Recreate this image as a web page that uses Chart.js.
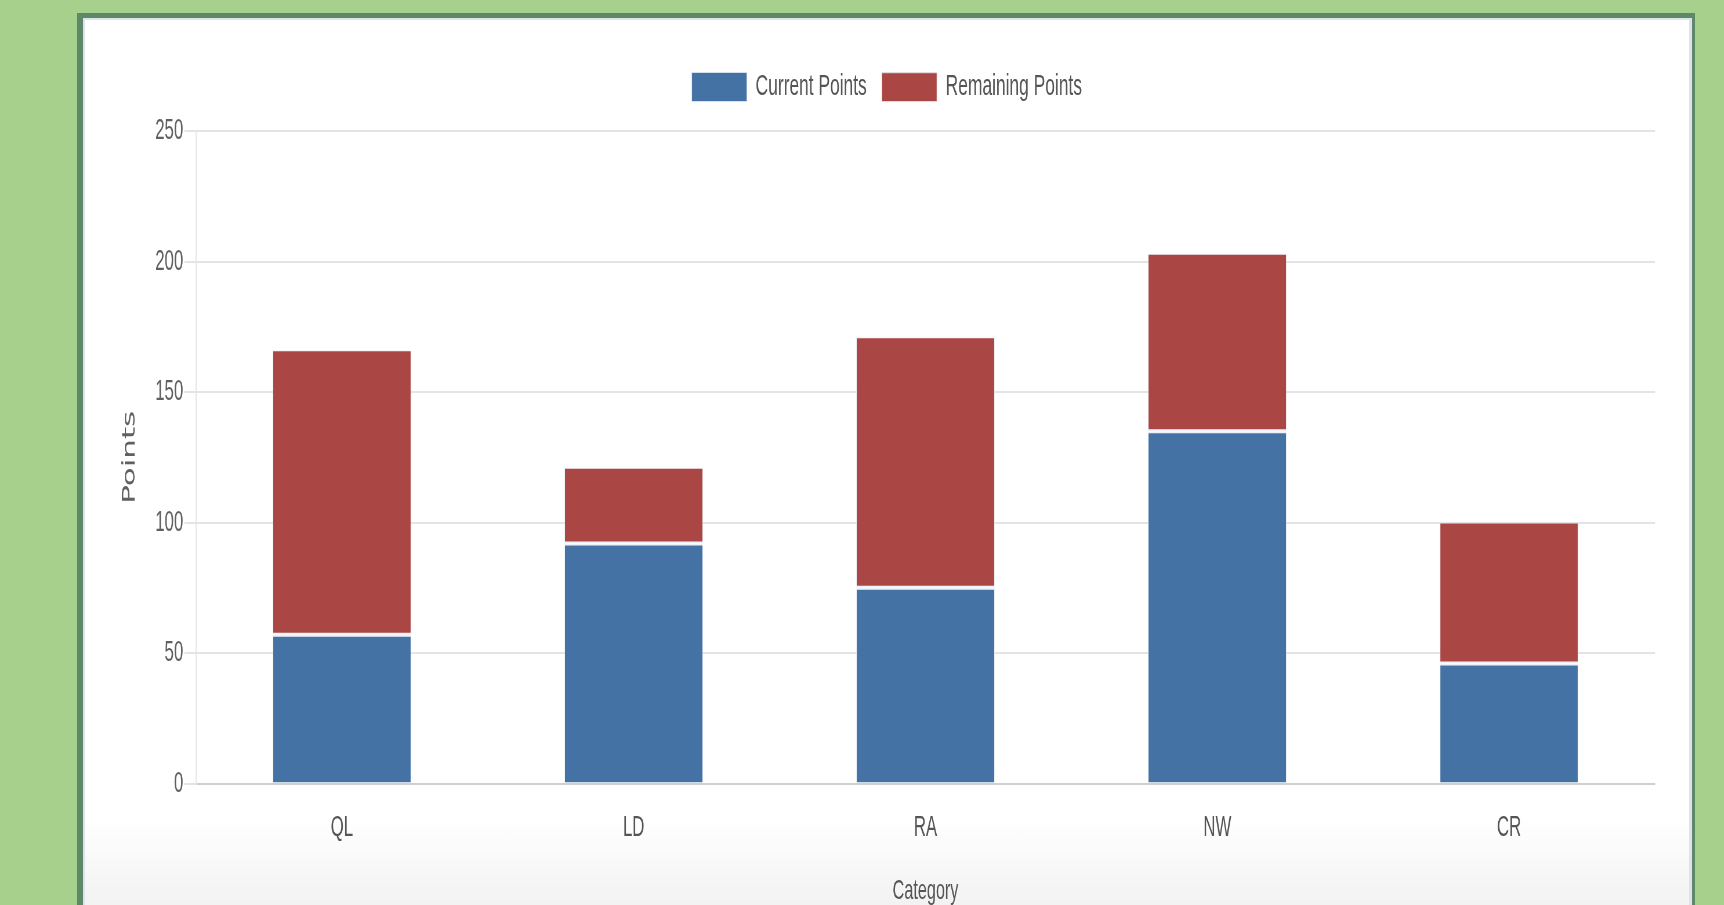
<!DOCTYPE html>
<html>
<head>
<meta charset="utf-8">
<script src="https://cdn.jsdelivr.net/npm/chart.js@4.4.1/dist/chart.umd.min.js"></script>
<style>
  html, body { margin: 0; padding: 0; width: 1724px; height: 905px; overflow: hidden; background: #a8d08d; }
  #card {
    position: absolute; left: 77px; top: 13px; width: 1618px; height: 1000px;
    box-sizing: border-box;
    border-left: 6px solid #5f8769; border-top: 5px solid #5f8769; border-right: 3px solid #5f8769;
    background: linear-gradient(to bottom, #ffffff 0px, #ffffff 800px, #efefef 910px);
    box-shadow: inset 2px 2px 0 #dde3e8, inset -3px 0 0 #dde3e8;
  }
  #wrap {
    position: absolute; left: 83px; top: 19px; width: 2772px; height: 889px;
    transform: scaleX(0.58); transform-origin: 0 0; z-index: 2;
  }
</style>
</head>
<body>
<div id="card"></div>
<div id="wrap"><canvas id="c"></canvas></div>
<script>
const categories = ['QL', 'LD', 'RA', 'NW', 'CR'];
const currentPoints = [57, 92, 75, 135, 46];
const remainingPoints = [109, 29, 96, 68, 54];
const seriesNames = ['Current Points', 'Remaining Points'];
const yMin = 0, yMax = 250, yStep = 50;

const sep = 'rgba(232,238,246,0.75)';
new Chart(document.getElementById('c'), {
  type: 'bar',
  data: {
    labels: categories,
    datasets: [
      { label: seriesNames[0], data: currentPoints, backgroundColor: '#4572a5',
        borderColor: sep, borderWidth: {top: 2, left: 1, right: 1, bottom: 0}, borderSkipped: false,
        categoryPercentage: 1, barPercentage: 0.475, yAxisID: 'y', xAxisID: 'x' },
      { label: seriesNames[1], data: remainingPoints, backgroundColor: '#aa4643',
        borderColor: sep, borderWidth: {top: 1, left: 1, right: 1, bottom: 2}, borderSkipped: false,
        categoryPercentage: 1, barPercentage: 0.475, yAxisID: 'y', xAxisID: 'x' }
    ]
  },
  options: {
    responsive: true, maintainAspectRatio: false, animation: false,
    devicePixelRatio: 1,
    layout: { padding: { top: 27, left: 0, right: 0, bottom: 0 } },
    plugins: {
      tooltip: { enabled: false },
      legend: {
        position: 'top', align: 'center',
        labels: {
          boxWidth: 95, boxHeight: 29, padding: 26,
          color: '#555555',
          font: { family: '"Liberation Sans", Arial, sans-serif', size: 30 }
        }
      }
    },
    scales: {
      x: {
        stacked: true,
        grid: { display: true, color: 'transparent', drawTicks: false },
        border: { display: true, color: '#cfcfcf', width: 2 },
        ticks: { color: '#555555', padding: 26.5,
          font: { family: '"Liberation Sans", Arial, sans-serif', size: 29 } },
        title: { display: true, text: 'Category', color: '#555555', padding: { top: 0, bottom: 0 },
          font: { family: '"Liberation Sans", Arial, sans-serif', size: 28 } },
        afterFit: (s) => { s.height = 124.4; }
      },
      x2: {
        axis: 'x', type: 'category', position: 'top', display: true,
        grid: { display: false, drawTicks: false }, border: { display: false },
        ticks: { display: false },
        afterFit: (s) => { s.height = 19; }
      },
      y: {
        stacked: true, min: yMin, max: yMax,
        grid: { color: '#e4e4e4', lineWidth: 2, drawTicks: true, tickLength: 20, tickColor: '#e4e4e4' },
        border: { display: true, color: '#e6e6e6', width: 2 },
        ticks: { stepSize: yStep, color: '#606060', padding: 2,
          font: { family: '"Liberation Sans", Arial, sans-serif', size: 29 } },
        title: { display: true, text: 'Points', color: '#606060', padding: { top: 62, bottom: 0 },
          font: { family: '"DejaVu Sans", Verdana, sans-serif', size: 31 } },
        afterFit: (s) => { s.width = 194.8; }
      },
      y2: {
        position: 'right', display: true,
        grid: { display: false, drawTicks: false }, border: { display: false },
        ticks: { display: false },
        afterFit: (s) => { s.width = 61.7; }
      }
    }
  }
});
</script>
</body>
</html>
